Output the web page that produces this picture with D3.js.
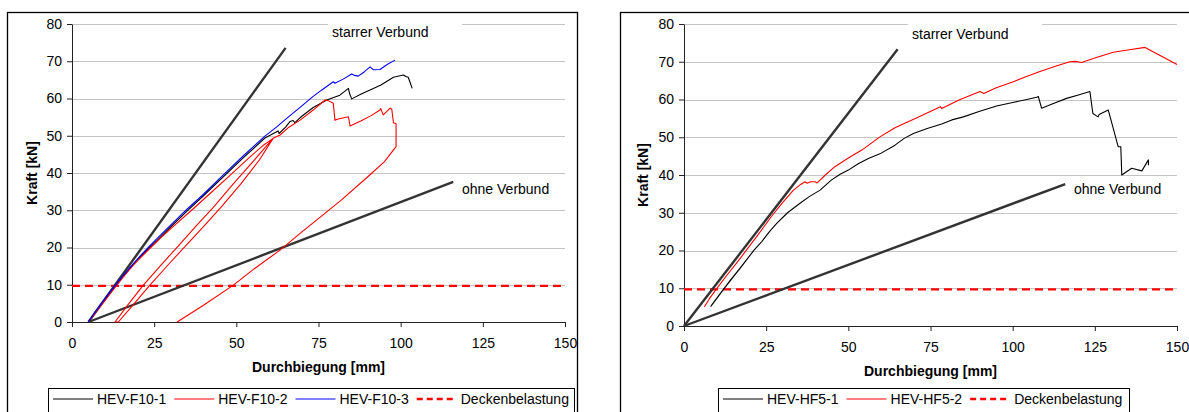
<!DOCTYPE html>
<html>
<head>
<meta charset="utf-8">
<script src="https://cdn.jsdelivr.net/npm/d3@7"></script>
<style>
body { margin: 0; background: #fff; }
svg { font-family: "Liberation Sans", Arial, sans-serif; }
</style>
</head>
<body>
<div id="chart"></div>
<script>
// axis ticks
const xTicks = [0, 25, 50, 75, 100, 125, 150];
const yTicks = [0, 10, 20, 30, 40, 50, 60, 70, 80];
const deckenbelastung = 9.7;

// left panel (HEV-F10)
const leftStarr = [[5, 0], [65, 73.6]];
const leftOhne = [[5, 0], [116, 37.6]];

const hevF10_1 = [[5,0],[7,2.5],[9,4.9],[11,7.3],[13.1,9.6],[15,11.7],[18,14.8],[20.5,17.2],[23.2,19.6],[26,22],[30,25.5],
  [34.9,29.7],[40,33.9],[46.5,39.4],[52,44],[58.7,49.4],[62.7,51.3],[63,50.6],[65,52.3],[66.3,53.8],[67.3,54.1],[67.8,53.5],
  [70,55.3],[73.4,57.6],[77.5,59.6],[81.5,60.9],[84.1,62.7],[84.5,61.2],[85.1,59.9],[88,61.2],[91,62.4],[94,63.6],[97.8,65.7],
  [100.8,66.3],[101.6,65.9],[102.3,65.7],[102.8,64.5],[103.5,62.7]];

const hevF10_2 = [[5,0],[7,2.3],[9,4.6],[11,6.9],[13.3,9.5],[16,12.5],[19,15.6],[23.5,19.6],[27,22.6],[31,25.8],[36.9,30.4],
  [42,34.5],[48,39.3],[54,44.2],[58,47.3],[61.2,49.3],
  [57,43.5],[51.5,37.2],[45.5,31],[40,25.6],[34.5,20.4],[29,15.1],[23.7,9.9],[19,5],[14.1,0],
  [13.1,0],[17,4.6],[21.7,9.9],[27,15.2],[32.5,20.6],[38,26],[43,30.8],[49,37],[55,43],[59,47.1],[61.2,49.3],
  [63.3,50.2],[66,52.3],[69.4,54.2],[73.4,56.9],[77,59.6],[77.8,59.5],[79.5,58.7],[80,54.2],[81,54.5],[84.1,55.1],[84.6,52.6],
  [88,54],[91,55.4],[93.7,56.9],[93.9,57.3],[94.7,55.6],[96.8,57.4],[97.3,57.1],[97.8,53.5],[98.6,53.2],[98.6,47.1],
  [95,43],[90,39],[82,32.8],[76,28.5],[69.4,23.8],[63.3,19.3],[55,14],[49.1,9.9],[40,4.5],[32,0]];

const hevF10_3 = [[5,0],[7,2.6],[9,5],[11,7.4],[13.1,9.75],[15,11.9],[18,15],[20.5,17.5],[23.2,20],[26,22.5],[30,26],
  [34.9,30.2],[40,34.3],[46.5,39.9],[52,44.5],[58.7,49.9],[62.3,52.4],[65.5,54.8],[69.4,57.6],[73,60.3],[76,62.3],[79.5,64.5],
  [80,64.1],[82.5,65.2],[85.1,66.6],[86,66.2],[87.1,66],[89,67.2],[90.7,68.5],[91.7,67.7],[93.7,67.8],[96,69.2],[98.3,70.3]];

// right panel (HEV-HF5)
const rightStarr = [[0, 0], [65, 73.3]];
const rightOhne = [[0, 0], [116, 37.6]];

const hevHF5_1 = [[8.1,5.1],[11,8.5],[14,12],[17.5,15.8],[21.3,20.1],[17,15.2],[12.5,10.3],[8.3,5.4],[11,8.6],[15,13],
  [21.3,20.1],[23.6,22.3],[26,25],[28.2,27.2],[31.5,30],[35.3,32.5],[38,34.2],[41.4,36],[44.9,38.7],[47.5,40.2],[50,41.3],
  [53,43],[56.1,44.4],[59.6,45.6],[64.2,47.9],[67,49.7],[69.8,51],[74,52.3],[78.4,53.5],[81.5,54.6],[85,55.4],[90,56.9],
  [95.1,58.3],[100,59.2],[104.3,60],[107.3,60.6],[107.8,60.8],[108.8,57.7],[112,58.8],[116.4,60.3],[120,61.2],[123.5,62.1],
  [124.4,56.3],[126,55.4],[126.3,56],[129.1,57.2],[132.1,47.5],[132.9,47.5],[133.2,40],[136.2,41.8],[139.3,41.1],[141.3,44],[141.3,42.6]];

const hevHF5_2 = [[6.2,5.1],[7.8,7.3],[9.6,9.5],[13.1,13.5],[16.1,16.8],[18.3,19.3],[22.4,24],[26.6,29],[29.8,32.5],[33.3,36],[35.5,37.5],
  [36.8,38.2],[37.5,37.8],[38.5,38.2],[39.9,38.2],[40.5,37.9],[43,40],[45.9,42.2],[50,44.5],[54.1,46.6],[59.6,50.1],[64.2,52.5],
  [67.2,53.7],[72,55.6],[78,58.1],[78.4,57.6],[84,60],[90.1,62.1],[91.2,61.6],[95,63.1],[100.2,64.7],[104,66],[108.3,67.4],
  [113,68.8],[117.4,70],[119,70.1],[121,69.8],[125,71],[130.6,72.5],[135,73.1],[140.3,73.8],[145,71.6],[150,69.3]];

const leftNames = ["HEV-F10-1", "HEV-F10-2", "HEV-F10-3", "Deckenbelastung"];
const rightNames = ["HEV-HF5-1", "HEV-HF5-2", "Deckenbelastung"];

const svg = d3.select("#chart").append("svg")
    .attr("width", 1189)
    .attr("height", 412);

function drawPanel(p) {
    const x = d3.scaleLinear().domain([0, 150]).range([p.left, p.right]);
    const y = d3.scaleLinear().domain([0, 80]).range([p.bottom, p.top]);

    // chart frame
    svg.append("rect")
        .attr("x", p.frameX + 0.5).attr("y", 12.5)
        .attr("width", p.frameW).attr("height", 460)
        .attr("fill", "#fff").attr("stroke", "#000").attr("stroke-width", 1.3);

    // gridlines
    svg.append("g").selectAll("line")
        .data(yTicks.filter(d => d > 0))
        .enter().append("line")
        .attr("x1", p.left).attr("x2", p.right)
        .attr("y1", d => Math.round(y(d)) + 0.5).attr("y2", d => Math.round(y(d)) + 0.5)
        .attr("stroke", "#c4c4c4");

    // white box of the "starrer Verbund" label
    svg.append("rect")
        .attr("x", p.boxX).attr("y", 15).attr("width", 134).attr("height", 30)
        .attr("fill", "#fff");

    const gx = svg.append("g")
        .attr("transform", `translate(0,${p.bottom})`)
        .call(d3.axisBottom(x).tickValues(xTicks).tickSize(5).tickSizeOuter(0).tickPadding(11));
    const gy = svg.append("g")
        .attr("transform", `translate(${p.left},0)`)
        .call(d3.axisLeft(y).tickValues(yTicks).tickSize(5).tickSizeOuter(0).tickPadding(5));
    [gx, gy].forEach(g => {
        g.select(".domain").attr("stroke", "#222");
        g.selectAll(".tick line").attr("stroke", "#222");
        g.selectAll(".tick text").style("font-size", "14px").attr("fill", "#000")
            .style("font-family", "'Liberation Sans', Arial, sans-serif");
    });

    const line = d3.line().x(d => x(d[0])).y(d => y(d[1]));

    // Deckenbelastung
    svg.append("path")
        .datum([[0, deckenbelastung], [150, deckenbelastung]])
        .attr("d", line)
        .attr("fill", "none").attr("stroke", "#ff0000")
        .attr("stroke-width", 2.3).attr("stroke-dasharray", "8,5");

    // theoretical lines
    [p.starr, p.ohne].forEach(d => {
        svg.append("path").datum(d).attr("d", line)
            .attr("fill", "none").attr("stroke", "#333").attr("stroke-width", 2.4);
    });

    // measured curves
    p.series.forEach(s => {
        svg.append("path").datum(s.data).attr("d", line)
            .attr("fill", "none").attr("stroke", s.color)
            .attr("stroke-width", 1.1).attr("stroke-linejoin", "round");
    });

    svg.append("text")
        .attr("x", p.starrLabel[0]).attr("y", p.starrLabel[1])
        .style("font-size", "14px").text("starrer Verbund");
    svg.append("text")
        .attr("x", p.ohneLabel[0]).attr("y", p.ohneLabel[1])
        .style("font-size", "14px").text("ohne Verbund");

    // axis titles
    svg.append("text")
        .attr("x", (p.left + p.right) / 2).attr("y", p.bottom + 50)
        .attr("text-anchor", "middle")
        .style("font-size", "14px").style("font-weight", "bold")
        .text("Durchbiegung [mm]");
    svg.append("text")
        .attr("transform", `translate(${p.yTitleX},${(p.top + p.bottom) / 2}) rotate(-90)`)
        .attr("text-anchor", "middle")
        .style("font-size", "14px").style("font-weight", "bold")
        .text("Kraft [kN]");

    // legend
    svg.append("rect")
        .attr("x", p.legendX + 0.5).attr("y", 388.5)
        .attr("width", p.legendW).attr("height", 40)
        .attr("fill", "#fff").attr("stroke", "#000");

    let cx = p.legendX + 5;
    const ly = 399;
    const items = p.series.map((s, i) => ({name: p.names[i], color: s.color, dash: null}));
    items.push({name: "Deckenbelastung", color: "#ff0000", dash: "6,4"});
    items.forEach(it => {
        svg.append("line")
            .attr("x1", cx).attr("x2", cx + 40).attr("y1", ly).attr("y2", ly)
            .attr("stroke", it.color)
            .attr("stroke-width", it.dash ? 2.3 : 1.1)
            .attr("stroke-dasharray", it.dash);
        const t = svg.append("text")
            .attr("x", cx + 44).attr("y", ly + 5)
            .style("font-size", "14px").text(it.name);
        cx += 44 + t.node().getComputedTextLength() + 8;
    });
}

drawPanel({
    frameX: 7, frameW: 570, left: 72, right: 565, top: 24, bottom: 322,
    boxX: 328, starrLabel: [332, 37], ohneLabel: [462, 194], yTitleX: 37,
    legendX: 48, legendW: 526,
    starr: leftStarr, ohne: leftOhne,
    series: [
        {data: hevF10_1, color: "#000000"},
        {data: hevF10_2, color: "#ff0000"},
        {data: hevF10_3, color: "#0000ff"}
    ],
    names: leftNames
});

drawPanel({
    frameX: 620, frameW: 600, left: 684, right: 1177, top: 24, bottom: 326,
    boxX: 908, starrLabel: [912, 39], ohneLabel: [1074, 194], yTitleX: 648,
    legendX: 718, legendW: 411,
    starr: rightStarr, ohne: rightOhne,
    series: [
        {data: hevHF5_1, color: "#000000"},
        {data: hevHF5_2, color: "#ff0000"}
    ],
    names: rightNames
});
</script>
</body>
</html>
